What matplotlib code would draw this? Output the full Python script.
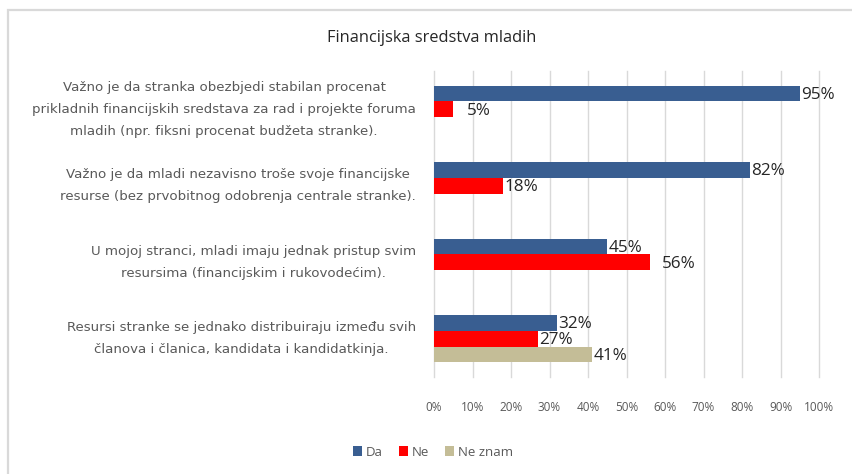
import matplotlib.pyplot as plt
from matplotlib.patches import Rectangle
import numpy as np

# chart data
categories = [
    'Važno je da stranka obezbjedi stabilan procenat\nprikladnih financijskih sredstava za rad i projekte foruma\nmladih (npr. fiksni procenat budžeta stranke).',
    'Važno je da mladi nezavisno troše svoje financijske\nresurse (bez prvobitnog odobrenja centrale stranke).',
    'U mojoj stranci, mladi imaju jednak pristup svim\nresursima (financijskim i rukovodećim).',
    'Resursi stranke se jednako distribuiraju između svih\nčlanova i članica, kandidata i kandidatkinja.',
]
da = [95, 82, 45, 32]
ne = [5, 18, 56, 27]
ne_znam = [None, None, None, 41]
series_names = ['Da', 'Ne', 'Ne znam']
colors = ['#395E91', '#FF0000', '#C4BD97']
x_ticks = [0, 10, 20, 30, 40, 50, 60, 70, 80, 90, 100]

# a few labels sit a bit further from the bar end in the original
extra_pad = {(1, 0): 9, (1, 2): 8}

plt.rcParams['font.family'] = ['Open Sans', 'DejaVu Sans']

fig = plt.figure(figsize=(8.53, 4.74), dpi=100)
ax = fig.add_axes([0.5088, 0.2046, 0.4514, 0.6458])

# light frame around the chart area (left and top edges visible)
fig.patches.append(Rectangle((8 / 853, -0.1), 1.2, 1 - 10 / 474 + 0.1,
                             transform=fig.transFigure, fill=False,
                             edgecolor='#D9D9D9', linewidth=1.6))

h = 0.205
y = np.arange(len(categories))
for k, (vals, name, col) in enumerate(zip([da, ne, ne_znam], series_names, colors)):
    pos = y + (k - 1) * h
    v = np.array([np.nan if a is None else a for a in vals], dtype=float)
    ax.barh(pos, np.nan_to_num(v), height=h, color=col, label=name, zorder=3)
    for i, (p, val) in enumerate(zip(pos, v)):
        if not np.isnan(val):
            dx = 1 + extra_pad.get((k, i), 0)
            ax.annotate(f'{int(val)}%', (val, p), xytext=(dx, -1),
                        textcoords='offset points', ha='left', va='center',
                        fontsize=12.3, color='#262626')

ax.set_xlim(0, 100)
ax.set_ylim(3.5, -0.5)
ax.set_xticks(x_ticks)
ax.set_xticklabels([f'{t}%' for t in x_ticks], fontsize=8.5, color='#595959')
ax.set_yticks(y)
ax.set_yticklabels(categories, fontsize=9.6, color='#595959', linespacing=1.9,
                   family='DejaVu Sans', va='center')
for lbl in ax.get_yticklabels():
    lbl.set_multialignment('center')
ax.tick_params(axis='both', length=0)
ax.tick_params(axis='y', pad=13)
ax.tick_params(axis='x', pad=17)
ax.grid(axis='x', color='#D9D9D9', linewidth=1, zorder=0)
for gl in ax.get_xgridlines():
    gl.set_clip_on(False)
for s in ax.spines.values():
    s.set_visible(False)

fig.text(432 / 853, 1 - 38 / 474, 'Financijska sredstva mladih', ha='center',
         va='center', fontsize=11.8, color='#262626')

fig.legend(loc='center', bbox_to_anchor=(433 / 853, 1 - 452 / 474), ncol=3,
           frameon=False, fontsize=9.5, labelcolor='#595959', handlelength=0.7,
           handleheight=0.7, handletextpad=0.3, columnspacing=1.2)

fig.savefig('out.png', dpi=100)
